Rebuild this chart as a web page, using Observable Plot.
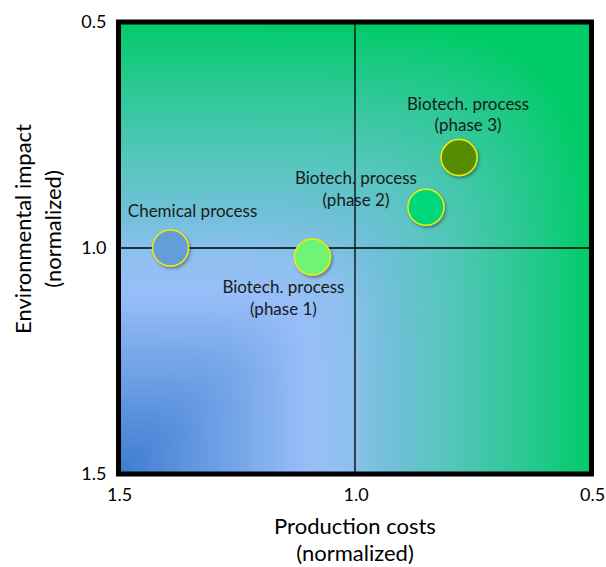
<!DOCTYPE html>
<html><head><meta charset="utf-8">
<script src="https://cdn.jsdelivr.net/npm/d3@7"></script>
<script src="https://cdn.jsdelivr.net/npm/@observablehq/plot@0.6"></script>
<style>body{margin:0;background:#fff}#chart{width:606px;height:567px}</style>
</head><body><div id="chart"></div>
<script>
// ---- data ----
const categories = ["Chemical process", "Biotech. process\n(phase 1)", "Biotech. process\n(phase 2)", "Biotech. process\n(phase 3)"];
const productionCosts = [1.39, 1.09, 0.85, 0.78];
const environmentalImpact = [1.0, 1.02, 0.91, 0.80];
const xTicks = [1.5, 1.0, 0.5];
const yTicks = [0.5, 1.0, 1.5];
const xTitle = "Production costs\n(normalized)";
const yTitle = "Environmental impact\n(normalized)";

// ---- styles ----
const pointColors = ["#659cda", "#70f474", "#00d67a", "#558b00"];
const bgStops = [[0, "#3f7ccf"], [0.2, "#6a9ee4"], [0.4, "#98bef8"], [0.48, "#90c0f0"], [0.58, "#70c0d8"], [0.7, "#55c6bc"], [0.84, "#30c898"], [0.95, "#10ca78"], [1, "#00cc66"]];
const labelOffsets = [[22, -38], [-29, 40], [-70, -19], [9, -44]];

const data = categories.map((name, i) => ({name, cost: productionCosts[i], impact: environmentalImpact[i], color: pointColors[i]}));

const bg = d3.scaleLinear().domain(bgStops.map(s => s[0])).range(bgStops.map(s => s[1])).interpolate(d3.interpolateRgb).clamp(true);
const bgFill = (x, y) => {
  const dx = Math.max(0, 1.5 - x), u = Math.max(0, 1.5 - y);
  const t = Math.pow(Math.pow(dx, 6) + Math.pow(u, 6), 1 / 6);
  return bg(t);
};

const labelMarks = data.map((d, i) => Plot.text([d], {
  x: "cost", y: "impact", text: "name", dx: labelOffsets[i][0], dy: labelOffsets[i][1],
  fontSize: 17, lineHeight: 1.27, fill: "#1a1a1a"
}));

const chart = Plot.plot({
  width: 606, height: 567,
  marginLeft: 118, marginRight: 15, marginTop: 21.5, marginBottom: 93.5,
  style: {fontFamily: "Lato, 'Open Sans', sans-serif", background: "#fff"},
  x: {domain: [1.5, 0.5]},
  y: {domain: [1.5, 0.5]},
  color: {type: "identity"},
  marks: [
    Plot.raster({x1: 1.5, x2: 0.5, y1: 1.5, y2: 0.5, width: 237, height: 226, fill: bgFill}),
    Plot.ruleX([1.0], {stroke: "#000", strokeWidth: 1.3}),
    Plot.ruleY([1.0], {stroke: "#000", strokeWidth: 1.3}),
    Plot.dot(data, {x: "cost", y: "impact", r: 18, fill: "color", stroke: "#eeee00", strokeWidth: 1.5}),
    ...labelMarks,
    Plot.frame({stroke: "#000", strokeWidth: 5}),
    Plot.axisX(xTicks, {tickSize: 0, tickPadding: 14, dx: 1, fontSize: 18, fill: "#000", tickFormat: d => d.toFixed(1), label: null}),
    Plot.axisY(yTicks, {tickSize: 0, tickPadding: 12, fontSize: 18, fill: "#000", tickFormat: d => d.toFixed(1), label: null}),
    Plot.text([xTitle], {frameAnchor: "bottom", lineAnchor: "middle", textAnchor: "middle", dy: 65, fontSize: 22, lineHeight: 1.2, fill: "#000"}),
    Plot.text([yTitle], {frameAnchor: "left", lineAnchor: "middle", textAnchor: "middle", rotate: -90, dx: -82, dy: -19, fontSize: 22, lineHeight: 1.38, fill: "#000"})
  ]
});

// drop shadow for the bubbles
const svg = d3.select(chart);
const defs = svg.insert("defs", ":first-child");
defs.append("filter").attr("id", "sh").attr("x", "-30%").attr("y", "-30%").attr("width", "170%").attr("height", "170%")
  .append("feDropShadow").attr("dx", 1.5).attr("dy", 2).attr("stdDeviation", 1.5).attr("flood-color", "#000").attr("flood-opacity", 0.35);
svg.selectAll("circle").attr("filter", "url(#sh)");

document.getElementById("chart").appendChild(chart);
</script>
</body></html>
